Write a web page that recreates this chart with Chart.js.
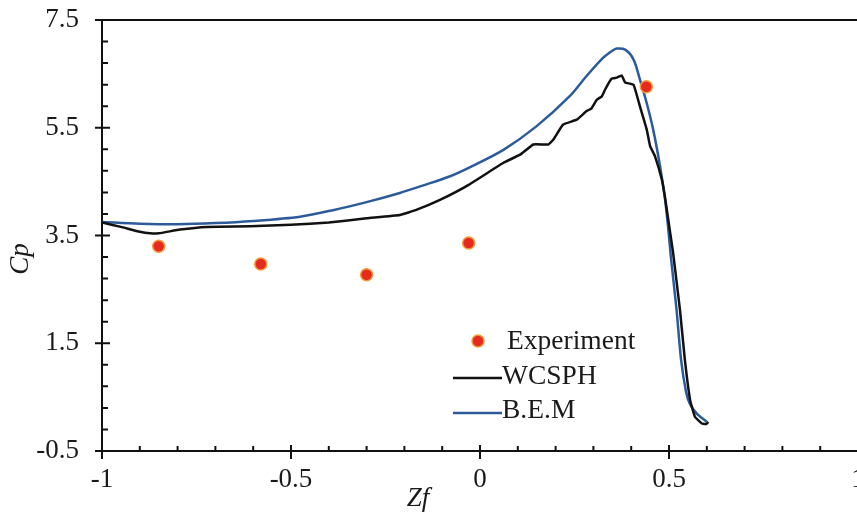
<!DOCTYPE html>
<html lang="en">
<head>
  <meta charset="UTF-8">
  <title>Cp vs Zf</title>
  <script src="https://cdn.jsdelivr.net/npm/chart.js"></script>
</head>
<style>
  body { margin: 0; overflow: hidden; background: #fff; }
  #wrap { width: 880px; height: 517px; }
</style>
<body>
  <div id="wrap">
    <canvas id="cpChart" width="880" height="517"></canvas>
  </div>
  <script>
    // Experiment points
    const expZf = [-0.85, -0.58, -0.30, -0.03, 0.44];
    const expCp = [3.30, 2.97, 2.77, 3.36, 6.26];

    // WCSPH
    const sphZf = [-1.0, -0.95, -0.9, -0.873, -0.85, -0.794, -0.723, -0.608, -0.5, -0.4, -0.3, -0.212, -0.167, -0.106, -0.03,
      0.062, 0.106, 0.141, 0.181, 0.194, 0.22, 0.256, 0.282, 0.295, 0.309, 0.322, 0.331, 0.348, 0.362, 0.375, 0.384, 0.406, 0.423,
      0.441, 0.45, 0.463, 0.481, 0.489, 0.5, 0.511, 0.529, 0.542, 0.556, 0.569, 0.587, 0.599, 0.604];
    const sphCp = [3.74, 3.66, 3.57, 3.54, 3.54, 3.61, 3.66, 3.67, 3.70, 3.74, 3.82, 3.88, 3.98, 4.16, 4.44,
      4.85, 5.00, 5.19, 5.19, 5.28, 5.56, 5.65, 5.81, 5.86, 6.02, 6.08, 6.21, 6.41, 6.43, 6.47, 6.34, 6.30, 5.90,
      5.47, 5.16, 4.97, 4.54, 4.23, 3.70, 3.17, 2.12, 1.19, 0.44, 0.13, 0.01, -0.0, 0.04];

    // B.E.M
    const bemZf = [-1.0, -0.9, -0.8, -0.7, -0.6, -0.476, -0.389, -0.3, -0.212, -0.15, -0.079, -0.026, 0.062, 0.15,
      0.238, 0.282, 0.326, 0.35, 0.362, 0.384, 0.406, 0.423, 0.441, 0.458, 0.476, 0.489, 0.497, 0.505, 0.52, 0.532,
      0.545, 0.555, 0.573, 0.6];
    const bemCp = [3.75, 3.72, 3.71, 3.73, 3.77, 3.85, 3.97, 4.12, 4.29, 4.43, 4.60, 4.77, 5.09, 5.53,
      6.09, 6.46, 6.80, 6.93, 6.97, 6.95, 6.77, 6.40, 5.96, 5.47, 4.80, 4.20, 3.70, 3.10, 2.12, 1.19,
      0.60, 0.38, 0.20, 0.04];

    const xTicks = [-1, -0.5, 0, 0.5, 1];
    const yTicks = [-0.5, 1.5, 3.5, 5.5, 7.5];

    const toPts = (xs, ys) => xs.map((x, i) => ({ x: x, y: ys[i] }));

    // minor ticks
    const xMinor = [];
    for (let i = -10; i <= 10; i++) xMinor.push(i / 10);
    const yMinor = [];
    for (let i = 0; i <= 20; i++) yMinor.push(-0.5 + i * 0.4);

    const serif = '"Liberation Serif", "Times New Roman", serif';

    const framePlugin = {
      id: 'frame',
      afterDraw(chart) {
        const ctx = chart.ctx;
        const a = chart.chartArea;
        const xs = chart.scales.x, ys = chart.scales.y;
        ctx.save();
        ctx.strokeStyle = '#111';
        ctx.lineWidth = 2;
        // top line
        ctx.beginPath();
        ctx.moveTo(a.left, a.top); ctx.lineTo(a.right, a.top);
        ctx.stroke();
        // x ticks
        ctx.beginPath();
        xMinor.forEach(v => {
          const px = xs.getPixelForValue(v);
          ctx.moveTo(px, a.bottom); ctx.lineTo(px, a.bottom - 5);
        });
        xTicks.forEach(v => {
          const px = xs.getPixelForValue(v);
          ctx.moveTo(px, a.bottom - 6); ctx.lineTo(px, a.bottom + 8);
        });
        yMinor.forEach(v => {
          const py = ys.getPixelForValue(v);
          ctx.moveTo(a.left, py); ctx.lineTo(a.left + 6, py);
        });
        yTicks.forEach(v => {
          const py = ys.getPixelForValue(v);
          ctx.moveTo(a.left - 7, py); ctx.lineTo(a.left + 8, py);
        });
        ctx.stroke();

        // axis titles
        ctx.fillStyle = '#1a1a1a';
        ctx.font = 'italic 27px ' + serif;
        ctx.textAlign = 'center';
        ctx.textBaseline = 'middle';
        ctx.fillText('Zf', 418, 499);
        ctx.save();
        ctx.translate(21, 259);
        ctx.rotate(-Math.PI / 2);
        ctx.fillText('Cp', 0, 0);
        ctx.restore();

        // legend
        ctx.font = '27.5px ' + serif;
        ctx.textAlign = 'left';
        ctx.beginPath();
        ctx.arc(478, 341, 6, 0, Math.PI * 2);
        ctx.fillStyle = '#e62a1e';
        ctx.fill();
        ctx.lineWidth = 1.5;
        ctx.strokeStyle = '#f39c3c';
        ctx.stroke();
        ctx.fillStyle = '#1a1a1a';
        ctx.fillText('Experiment', 507, 342);

        ctx.lineWidth = 2.5;
        ctx.strokeStyle = '#111';
        ctx.beginPath(); ctx.moveTo(453, 378); ctx.lineTo(502, 378); ctx.stroke();
        ctx.fillText('WCSPH', 502, 377);

        ctx.strokeStyle = '#2d5b9a';
        ctx.beginPath(); ctx.moveTo(453, 413); ctx.lineTo(502, 413); ctx.stroke();
        ctx.fillText('B.E.M', 502, 411);
        ctx.restore();
      }
    };

    new Chart(document.getElementById('cpChart'), {
      type: 'scatter',
      data: {
        datasets: [{
          label: 'Experiment',
          data: toPts(expZf, expCp),
          pointRadius: 6,
          backgroundColor: '#e62a1e',
          borderColor: '#f39c3c',
          borderWidth: 1.5
        }, {
          label: 'WCSPH',
          data: toPts(sphZf, sphCp),
          showLine: true,
          pointRadius: 0,
          borderColor: '#111',
          borderWidth: 2.5,
          tension: 0.1
        }, {
          label: 'B.E.M',
          data: toPts(bemZf, bemCp),
          showLine: true,
          pointRadius: 0,
          borderColor: '#2d5b9a',
          borderWidth: 2.5,
          tension: 0.3
        }]
      },
      options: {
        responsive: false,
        animation: false,
        devicePixelRatio: 1,
        layout: { padding: { left: 0, top: 20, right: 22, bottom: 0 } },
        plugins: { legend: { display: false }, tooltip: { enabled: false } },
        scales: {
          x: {
            type: 'linear',
            min: -1, max: 1,
            afterBuildTicks: s => { s.ticks = xTicks.map(v => ({ value: v })); },
            afterFit: s => { s.height = 66; s.paddingLeft = 0; s.paddingRight = 0; },
            grid: { display: false, drawTicks: false },
            border: { display: true, color: '#111', width: 2 },
            ticks: {
              padding: 13,
              color: '#1a1a1a',
              font: { family: serif, size: 27 },
              maxRotation: 0,
              callback: v => String(v)
            }
          },
          y: {
            type: 'linear',
            min: -0.5, max: 7.5,
            afterBuildTicks: s => { s.ticks = yTicks.map(v => ({ value: v })); },
            afterFit: s => { s.width = 102; s.paddingTop = 0; s.paddingBottom = 0; },
            grid: { display: false, drawTicks: false },
            border: { display: true, color: '#111', width: 2 },
            ticks: {
              padding: 23,
              color: '#1a1a1a',
              font: { family: serif, size: 27 },
              callback: v => v.toFixed(1)
            }
          }
        }
      },
      plugins: [framePlugin]
    });
  </script>
</body>
</html>
